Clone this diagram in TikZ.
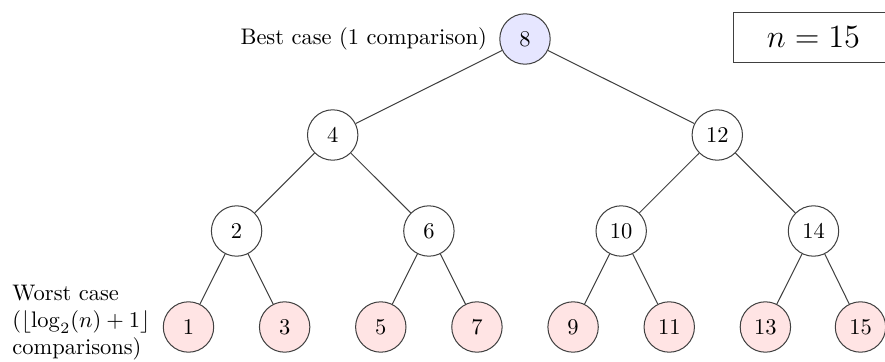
\documentclass[tikz,border=0pt]{standalone}
\usetikzlibrary{calc}
\definecolor{bestfill}{RGB}{230,230,255}
\definecolor{worstfill}{RGB}{255,228,228}
\tikzset{
  tnode/.style={circle, draw=black!75, line width=0.45pt, minimum size=22.4pt, inner sep=0pt, fill=white},
  bestnode/.style={tnode, fill=bestfill},
  leafnode/.style={tnode, fill=worstfill},
  edge/.style={draw=black!75, line width=0.45pt},
  nbox/.style={draw=black!75, line width=0.45pt, inner xsep=15pt, minimum height=22.6pt, font=\fontsize{13.9pt}{17pt}\selectfont}
}
\begin{document}
\begin{tikzpicture}[x=0.4445pt, y=-0.4445pt]
\useasboundingbox (0,0) rectangle (885,362);
% root
\node[bestnode] (n8) at (525,39) {8};
% level 1
\node[tnode] (n4) at (332.7,135) {4};
\node[tnode] (n12) at (717.3,135) {12};
% level 2
\node[tnode] (n2) at (236.6,231) {2};
\node[tnode] (n6) at (428.9,231) {6};
\node[tnode] (n10) at (621.2,231) {10};
\node[tnode] (n14) at (813.5,231) {14};
% leaves
\node[leafnode] (n1) at (188.5,327) {1};
\node[leafnode] (n3) at (284.65,327) {3};
\node[leafnode] (n5) at (380.8,327) {5};
\node[leafnode] (n7) at (476.95,327) {7};
\node[leafnode] (n9) at (573.1,327) {9};
\node[leafnode] (n11) at (669.25,327) {11};
\node[leafnode] (n13) at (765.4,327) {13};
\node[leafnode] (n15) at (860.5,327) {15};
% edges
\draw[edge] (n8) -- (n4);
\draw[edge] (n8) -- (n12);
\draw[edge] (n4) -- (n2);
\draw[edge] (n4) -- (n6);
\draw[edge] (n12) -- (n10);
\draw[edge] (n12) -- (n14);
\draw[edge] (n2) -- (n1);
\draw[edge] (n2) -- (n3);
\draw[edge] (n6) -- (n5);
\draw[edge] (n6) -- (n7);
\draw[edge] (n10) -- (n9);
\draw[edge] (n10) -- (n11);
\draw[edge] (n14) -- (n13);
\draw[edge] (n14) -- (n15);
% labels
\node[anchor=east, inner sep=0pt] (best) at ($(n8.west)+(-12,0)$) {Best case (1 comparison)};
\node[anchor=west, inner sep=0pt, align=left] (worst) at (12,323) {Worst case\\($\lfloor\log_2(n)+1\rfloor$\\comparisons)};
\node[nbox] (nlabel) at (813.5,37.5) {$n=15$};
\end{tikzpicture}
\end{document}
